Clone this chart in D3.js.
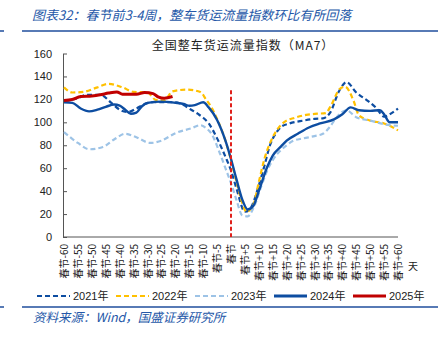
<!DOCTYPE html>
<html><head><meta charset="utf-8">
<script src="https://cdn.jsdelivr.net/npm/d3@7"></script>
<style>
html,body{margin:0;padding:0;background:#fff;}
svg{display:block;}
</style></head>
<body>
<svg id="c" width="438" height="337"></svg>
<script>
// ---- data ----
const yTicks = [0, 20, 40, 60, 80, 100, 120, 140, 160];
const xTickDays = d3.range(-60, 61, 5);
const seriesNames = ["2021年", "2022年", "2023年", "2024年", "2025年"];
const s2021 = [[-60,119],[-55,121],[-52,124],[-47,124],[-43,117],[-40,111],[-37,109],[-34,112],[-31,116],[-28,117.5],[-20,117.5],[-17,115],[-15,112],[-12,107.5],[-10,104],[-8,99],[-5,86],[-2,70],[0,58],[2,42],[5,22],[7,25],[10,45],[12,62],[14,80],[16,90],[18,96],[21,99],[26,101.5],[30,103],[33,103.5],[35.5,108],[39,128],[41.5,135],[45,126],[49,119],[52,113],[55,105],[57,107],[60,112]];
const s2022 = [[-60,130.5],[-57,126],[-53,126.5],[-48,130.5],[-44,133.5],[-39,130.5],[-35,126.5],[-30,126],[-27,119.5],[-24,119],[-21,127],[-16,128.5],[-11,126.5],[-9,120],[-7,113],[-5,103],[-2,84],[0,67],[2,48],[4,30],[5.5,22],[8,28],[10,48],[12,68],[15,87],[17,95],[19,100],[23,104],[27,106.5],[31,107.5],[34,108],[36,115],[39,129],[41,131],[44,119],[46,106],[50,101.5],[55,99],[60,93]];
const s2023 = [[-60,91.5],[-55,82],[-51,76.5],[-46,78.5],[-42,85],[-38,90],[-34,87],[-29,82],[-25,84],[-20,90.5],[-14,95],[-11,97.5],[-9,95],[-7,90],[-4,73],[-2,60],[0,47],[2,32],[4,19],[6,18],[8,25],[11,45],[13,58],[15,67],[18,76],[20,80],[22,83.5],[26,86],[30,88],[33,90],[35.5,96],[38,104.5],[41.5,110.5],[45,104.5],[50,101.5],[57,97.5],[60,97]];
const s2024 = [[-60,117.5],[-57,117],[-54,112],[-51,109.5],[-48,111],[-45,113.5],[-42,115.5],[-40,114.5],[-38,111],[-36,107.5],[-34,108.5],[-32,114],[-30,117],[-25,118],[-20,117],[-17,116],[-15,114.5],[-13,115],[-10,117.5],[-8,113],[-5,102],[-2,84],[0,68],[2,50],[4,33],[6,24],[8,27],[10,40],[13,61],[15,71],[18,79],[20,84],[24,90],[28,95.5],[32,99],[37,102.5],[40,107],[43,113],[46,110.5],[50,110],[53.5,110.5],[55,107],[57,100],[60,100]];
const s2025 = [[-60,119],[-57,120],[-54,122.5],[-50,123],[-47,124],[-44,125.5],[-41,126.5],[-39,124.5],[-36,124.5],[-34,124.5],[-31,126],[-28,125],[-26,122],[-24,121],[-21,122.5]];
const springDay = 0;
const springLineTop = 128;

// ---- styles ----
const styles = [
  {data:s2021, color:"#0d4da1", width:2.2, dash:"5,3"},
  {data:s2022, color:"#ffc000", width:2.2, dash:"5,3"},
  {data:s2023, color:"#9dc3e6", width:2.2, dash:"5,3"},
  {data:s2024, color:"#0d4da1", width:2.4, dash:null},
  {data:s2025, color:"#c00000", width:3, dash:null}
];

const svg = d3.select("#c");
const blue = "#2457a8";

// header
svg.append("text").attr("x",32).attr("y",20)
  .attr("font-family","'Noto Sans CJK SC'").attr("font-size",13)
  .attr("font-style","italic").attr("fill",blue)
  .text("图表32：春节前3-4周，整车货运流量指数环比有所回落");
svg.append("line").attr("x1",22).attr("x2",438).attr("y1",31).attr("y2",31).attr("stroke","#1f4e9c").attr("stroke-width",1.5);
svg.append("line").attr("x1",0).attr("x2",4).attr("y1",31).attr("y2",31).attr("stroke","#1f4e9c").attr("stroke-width",1.5);
// footer
svg.append("line").attr("x1",22).attr("x2",438).attr("y1",307).attr("y2",307).attr("stroke","#1f4e9c").attr("stroke-width",1.5);
svg.append("line").attr("x1",0).attr("x2",4).attr("y1",307).attr("y2",307).attr("stroke","#1f4e9c").attr("stroke-width",1.5);
svg.append("text").attr("x",33).attr("y",322)
  .attr("font-family","'Noto Sans CJK SC'").attr("font-size",12.5)
  .attr("font-style","italic").attr("fill",blue)
  .text("资料来源：Wind，国盛证券研究所");

// chart title
svg.append("text").attr("x",243).attr("y",50).attr("text-anchor","middle")
  .attr("font-family","'Noto Sans CJK SC'").attr("font-size",12).attr("letter-spacing",1).attr("fill","#222")
  .text("全国整车货运流量指数（MA7）");

const x = d3.scaleLinear().domain([-60,60]).range([64,398]);
const y = d3.scaleLinear().domain([0,160]).range([237,53.5]);

// y axis
const ya = svg.append("g").attr("transform","translate(63,0)")
  .call(d3.axisLeft(y).tickValues(yTicks).tickSize(-4).tickSizeOuter(0).tickPadding(11));
ya.select(".domain").attr("stroke","#555");
ya.selectAll(".tick line").attr("stroke","#555");
ya.selectAll("text").attr("font-family","'Liberation Sans',Arial").attr("font-size",11).attr("fill","#222");

// x axis
const xa = svg.append("g").attr("transform","translate(0,237)")
  .call(d3.axisBottom(x).tickValues(xTickDays).tickSize(0).tickSizeOuter(0)
    .tickFormat(d => d === 0 ? "春节" : "春节" + (d > 0 ? "+" : "") + d));
xa.select(".domain").attr("stroke","#555").attr("d","M63,0H398");
xa.selectAll("text")
  .attr("font-family","'Noto Sans CJK SC'").attr("font-size",10).attr("fill","#222")
  .attr("transform","rotate(-90)").attr("x",-7).attr("y",0).attr("dy","0.35em")
  .style("text-anchor","end");
svg.append("text").attr("x",413).attr("y",270).attr("text-anchor","middle")
  .attr("font-family","'Noto Sans CJK SC'").attr("font-size",10).attr("fill","#222").text("天");

// lines
const line = d3.line().x(d => x(d[0])).y(d => y(d[1])).curve(d3.curveMonotoneX);
styles.forEach(s => {
  svg.append("path").datum(s.data).attr("d", line)
    .attr("fill","none").attr("stroke",s.color).attr("stroke-width",s.width)
    .attr("stroke-dasharray", s.dash).attr("stroke-linejoin","round");
});

// spring festival marker
svg.append("line").attr("x1",x(springDay)).attr("x2",x(springDay))
  .attr("y1",y(springLineTop)).attr("y2",y(0))
  .attr("stroke","#e0201b").attr("stroke-width",2).attr("stroke-dasharray","4,2.5");

// legend
const lg = svg.append("g").attr("transform","translate(37,296)");
seriesNames.forEach((n,i) => {
  const s = styles[i];
  const g = lg.append("g").attr("transform",`translate(${i*79},0)`);
  g.append("line").attr("x1",0).attr("x2",33).attr("y1",0).attr("y2",0)
    .attr("stroke",s.color).attr("stroke-width",s.dash ? 2.2 : 3).attr("stroke-dasharray",s.dash);
  g.append("text").attr("x",36).attr("y",0).attr("dy","0.35em")
    .attr("font-family","'Liberation Sans','Noto Sans CJK SC'").attr("font-size",11).attr("fill","#222").text(n);
});
</script>
</body></html>
